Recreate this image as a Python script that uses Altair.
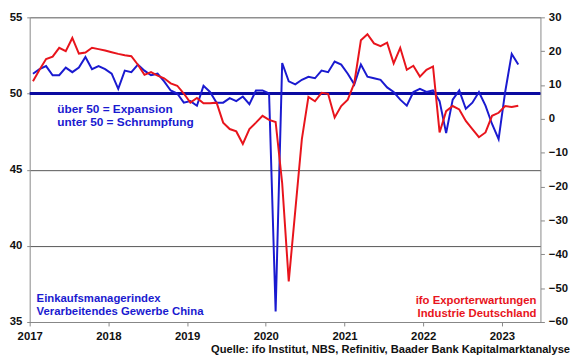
import altair as alt
import pandas as pd

# Monthly data Jan 2017 - Mar 2023
years = list(range(2017, 2024))
pmi_china = [
    51.3, 51.6, 51.8, 51.2, 51.2, 51.7, 51.4, 51.7, 52.4, 51.6, 51.8, 51.6,
    51.3, 50.3, 51.5, 51.4, 51.9, 51.5, 51.2, 51.3, 50.8, 50.2, 50.0, 49.4,
    49.5, 49.2, 50.5, 50.1, 49.4, 49.4, 49.7, 49.5, 49.8, 49.3, 50.2, 50.2,
    50.0, 35.7, 52.0, 50.8, 50.6, 50.9, 51.1, 51.0, 51.5, 51.4, 52.1, 51.9,
    51.3, 50.6, 51.9, 51.1, 51.0, 50.9, 50.4, 50.1, 49.6, 49.2, 50.1, 50.3,
    50.1, 50.2, 49.5, 47.4, 49.6, 50.2, 49.0, 49.4, 50.1, 49.2, 48.0, 47.0,
    50.1, 52.6, 51.9,
]
ifo_export = [
    11.1, 14.5, 17.7, 18.4, 21.0, 20.0, 23.9, 19.3, 19.6, 21.0, 20.6, 20.2,
    19.7, 19.2, 18.8, 18.5, 16.0, 13.0, 13.8, 12.8, 12.0, 10.5, 9.8, 7.5,
    4.8, 6.2, 4.6, 4.6, 4.8, -1.1, -3.0, -3.7, -7.4, -3.0, -1.1, 0.9,
    -0.3, -0.9, -19.0, -48.0, -27.0, -6.0, 6.5, 5.2, 7.7, 7.4, 0.4, 3.8,
    5.7, 10.6, 23.2, 25.0, 22.3, 21.5, 22.5, 16.4, 21.0, 14.5, 15.7, 12.5,
    14.5, 15.5, -4.0, 2.3, 3.8, 2.8, -0.6, -3.0, -5.4, -4.0, 0.9, 1.8,
    3.8, 3.5, 3.9,
]
left_ticks = [35, 40, 45, 50, 55]
right_ticks = [-60, -50, -40, -30, -20, -10, 0, 10, 20, 30]

t = [2017 + (i + 0.5) / 12 for i in range(len(pmi_china))]
df = pd.DataFrame({"t": t, "pmi": pmi_china, "ifo": ifo_export})

FONT = "Liberation Sans"
BLUE = "#1a1ad0"
NAVY = "#0a0aa0"
RED = "#e8141c"

xscale = alt.Scale(domain=[2017, 2023.49], nice=False, zero=False)
xaxis = alt.Axis(values=years, format="d", title=None, grid=False,
                 labelFont=FONT, labelFontWeight="bold", labelFontSize=11.5,
                 labelColor="#111", domainColor="#888", tickColor="#888",
                 tickSize=4, labelPadding=5, labelFlush=False)

lscale = alt.Scale(domain=[35, 55], nice=False, zero=False)
lax = alt.Axis(values=left_ticks, title=None, grid=True, gridColor="#555",
               gridWidth=1, labelFont=FONT, labelFontWeight="bold",
               labelFontSize=11.5, labelColor="#111", domainColor="#888",
               tickColor="#888", tickSize=3, labelPadding=5)
rscale = alt.Scale(domain=[-60, 30], nice=False, zero=False)
rax = alt.Axis(values=right_ticks, title=None, orient="right", grid=False,
               labelFont=FONT, labelFontWeight="bold", labelFontSize=11.5,
               labelColor="#111", domainColor="#888", tickColor="#888",
               tickSize=4, labelPadding=4)

base = alt.Chart(df)

rule50 = alt.Chart(pd.DataFrame({"y": [50]})).mark_rule(
    color=NAVY, strokeWidth=3
).encode(y=alt.Y("y:Q", scale=lscale, axis=lax))

blue = base.mark_line(color=BLUE, strokeWidth=2).encode(
    x=alt.X("t:Q", scale=xscale, axis=xaxis),
    y=alt.Y("pmi:Q", scale=lscale, axis=lax),
)

red = base.mark_line(color=RED, strokeWidth=2).encode(
    x=alt.X("t:Q", scale=xscale, axis=xaxis),
    y=alt.Y("ifo:Q", scale=rscale, axis=rax),
)

left = alt.layer(rule50, blue)
chart_lines = alt.layer(left, red).resolve_scale(y="independent")


def txt(lines, x, y, color, align="left", size=11.5):
    return alt.Chart(pd.DataFrame({"a": [0]})).mark_text(
        text=lines, align=align, baseline="middle", font=FONT,
        fontWeight="bold", fontSize=size, color=color, lineHeight=13,
    ).encode(x=alt.value(x), y=alt.value(y))


texts = [
    txt(["über 50 = Expansion", "unter 50 = Schrumpfung"], 28, 93.5, BLUE, size=12),
    txt(["Einkaufsmanagerindex", "Verarbeitendes Gewerbe China"], 7, 286, BLUE),
    txt(["ifo Exporterwartungen", "Industrie Deutschland"], 514, 288, RED, align="right"),
    txt(["Quelle: ifo Institut, NBS, Refinitiv, Baader Bank Kapitalmarktanalyse"],
        548, 337, "#111", align="right", size=11.3),
]

chart = alt.layer(chart_lines, *texts).properties(
    width=518, height=309,
    autosize=alt.AutoSizeParams(type="none"),
    padding={"left": 22, "top": 7, "right": 32, "bottom": 32},
).configure_view(stroke=None)

chart.save("out.html", embed_options={"renderer": "svg", "actions": False})
